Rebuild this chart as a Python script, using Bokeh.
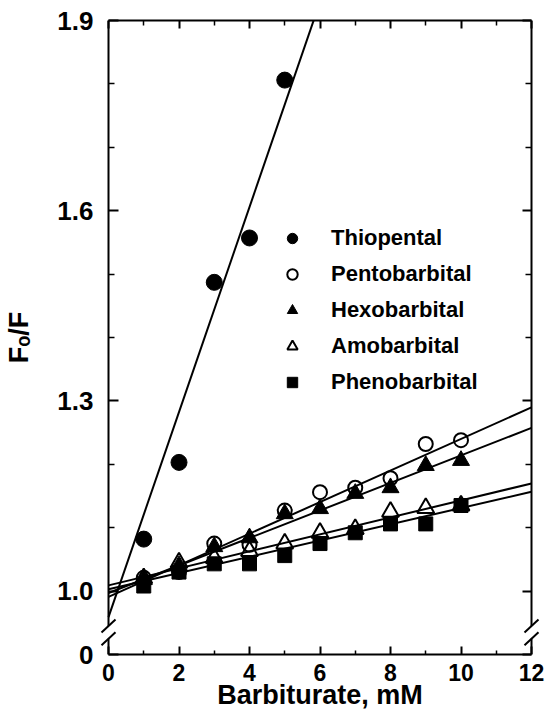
from bokeh.plotting import figure
from bokeh.models import Range1d, LinearAxis, FixedTicker, Legend, LegendItem
from bokeh.embed import file_html
from bokeh.resources import INLINE

# ---------------- data ----------------
conc = [1, 2, 3, 4, 5, 6, 7, 8, 9, 10]
thio_conc = [1, 2, 3, 4, 5]
thiopental = [1.082, 1.203, 1.487, 1.557, 1.806]
pentobarbital = [1.021, 1.030, 1.075, 1.073, 1.127, 1.156, 1.163, 1.178, 1.232, 1.238]
hexobarbital = [1.018, 1.040, 1.070, 1.084, 1.122, 1.130, 1.154, 1.163, 1.198, 1.206]
amobarbital = [1.020, 1.045, 1.052, 1.063, 1.075, 1.092, 1.098, 1.125, 1.131, 1.135]
phenobarbital = [1.008, 1.030, 1.043, 1.043, 1.056, 1.075, 1.092, 1.106, 1.106, 1.135]

series_names = ["Thiopental", "Pentobarbital", "Hexobarbital", "Amobarbital", "Phenobarbital"]
fit_intercept = [0.959, 0.991, 0.997, 1.009, 1.003]
fit_slope = [0.1617, 0.0249, 0.0217, 0.0134, 0.0128]

x_ticks = [0, 2, 4, 6, 8, 10, 12]
x_minor = [1, 3, 5, 7, 9, 11]
y_ticks = [0.9, 1.0, 1.3, 1.6, 1.9]
y_tick_labels = ["0", "1.0", "1.3", "1.6", "1.9"]
y_minor = [1.1, 1.2, 1.4, 1.5, 1.7, 1.8]
y_break = [0.925, 0.945]   # axis break (gap) on the y axis

# ---------------- layout ----------------
FONT = "Liberation Sans"
PAD = 9                       # px between frame edge and the drawn y axes
PLOT_W = 423                  # px for 0..12
FRAME_H = 634
ppx = PLOT_W / (x_ticks[-1] - x_ticks[0])
ppy = FRAME_H / (y_ticks[-1] - y_ticks[0])
x_lo = x_ticks[0] - PAD / ppx
x_hi = x_ticks[-1] + PAD / ppx

p = figure(frame_width=PLOT_W + 2 * PAD, frame_height=FRAME_H,
           output_backend="svg", toolbar_location=None,
           x_range=Range1d(x_lo, x_hi), y_range=Range1d(y_ticks[0], y_ticks[-1]),
           x_axis_location=None, y_axis_location=None,
           min_border_left=99, min_border_right=8, min_border_top=20, min_border_bottom=0)
p.grid.visible = False
p.outline_line_color = None
p.background_fill_color = "white"
p.border_fill_color = "white"


def base_style(ax):
    ax.major_label_text_font = FONT
    ax.major_label_text_font_style = "bold"
    ax.major_label_text_color = "black"
    ax.axis_label_text_font = FONT
    ax.axis_label_text_font_style = "bold"
    ax.axis_label_text_color = "black"
    ax.axis_line_width = 2
    ax.major_tick_line_width = 2
    ax.minor_tick_line_width = 1.5


xticker = FixedTicker(ticks=x_ticks, minor_ticks=x_minor)
yticker = FixedTicker(ticks=y_ticks, minor_ticks=y_minor)

xb = LinearAxis(ticker=xticker, bounds=(x_ticks[0], x_ticks[-1]), axis_label="Barbiturate, mM")
base_style(xb)
xb.major_label_text_font_size = "23px"
xb.axis_label_text_font_size = "27px"
xb.major_tick_in, xb.major_tick_out = 8, 0
xb.minor_tick_in, xb.minor_tick_out = 4, 0
xb.major_label_standoff = 9
xb.axis_label_standoff = -4
p.add_layout(xb, "below")

xt = LinearAxis(ticker=xticker, bounds=(x_ticks[0], x_ticks[-1]),
                major_label_overrides={t: "" for t in x_ticks})
base_style(xt)
xt.major_label_text_font_size = "1px"
xt.major_label_standoff = 0
xt.major_tick_in, xt.major_tick_out = 8, 0
xt.minor_tick_in, xt.minor_tick_out = 5, 0
p.add_layout(xt, "above")

yl = LinearAxis(ticker=yticker, axis_label="F\u2092/F",
                major_label_overrides=dict(zip(y_ticks, y_tick_labels)))
base_style(yl)
yl.axis_line_color = None
yl.major_label_text_font_size = "26px"
yl.axis_label_text_font_size = "27px"
yl.major_tick_in, yl.major_tick_out = PAD + 10, -PAD
yl.minor_tick_in, yl.minor_tick_out = PAD + 6, -PAD
yl.major_label_standoff = 15
yl.axis_label_standoff = 20
p.add_layout(yl, "left")

yr = LinearAxis(ticker=yticker, major_label_overrides={t: "" for t in y_ticks})
base_style(yr)
yr.axis_line_color = None
yr.major_label_text_font_size = "1px"
yr.major_label_standoff = PAD
yr.major_tick_in, yr.major_tick_out = PAD + 9, -PAD
yr.minor_tick_in, yr.minor_tick_out = PAD + 6, -PAD
p.add_layout(yr, "right")

# vertical axis lines with the break, and the break marks
xl, xr = x_ticks[0], x_ticks[-1]
p.segment(x0=[xl, xl, xr, xr], x1=[xl, xl, xr, xr],
          y0=[y_ticks[0], y_break[1], y_ticks[0], y_break[1]],
          y1=[y_break[0], y_ticks[-1], y_break[0], y_ticks[-1]],
          line_width=2, line_color="black")
sx, sy = 7 / ppx, 6.5 / ppy
bx0, bx1, by0, by1 = [], [], [], []
for xx in (xl, xr):
    for yy in y_break:
        bx0.append(xx - sx); bx1.append(xx + sx)
        by0.append(yy - sy); by1.append(yy + sy)
p.segment(x0=bx0, x1=bx1, y0=by0, y1=by1, line_width=2, line_color="black")

# regression lines
for b, m in zip(fit_intercept, fit_slope):
    p.line(x=[xl, xr], y=[b + m * xl, b + m * xr], line_width=2, line_color="black")

r1 = p.scatter(thio_conc, thiopental, marker="circle", size=16,
               fill_color="black", line_color="black")
r2 = p.scatter(conc, pentobarbital, marker="circle", size=14,
               fill_color=None, line_color="black", line_width=2)
r3 = p.scatter(conc, hexobarbital, marker="triangle", size=17,
               fill_color="black", line_color="black")
r4 = p.scatter(conc, amobarbital, marker="triangle", size=17,
               fill_color=None, line_color="black", line_width=2)
r5 = p.scatter(conc, phenobarbital, marker="square", size=14,
               fill_color="black", line_color="black")

legend = Legend(items=[LegendItem(label=n, renderers=[r]) for n, r in
                       zip(series_names, [r1, r2, r3, r4, r5])],
                location=(180, 259))
legend.label_text_font = FONT
legend.label_text_font_style = "bold"
legend.label_text_font_size = "22px"
legend.label_text_color = "black"
legend.glyph_width = 26
legend.glyph_height = 26
legend.label_height = 26
legend.spacing = 10
legend.label_standoff = 26
legend.padding = 0
legend.margin = 0
legend.border_line_color = None
legend.background_fill_alpha = 0
p.add_layout(legend)

open("out.html", "w").write(file_html(p, INLINE))
